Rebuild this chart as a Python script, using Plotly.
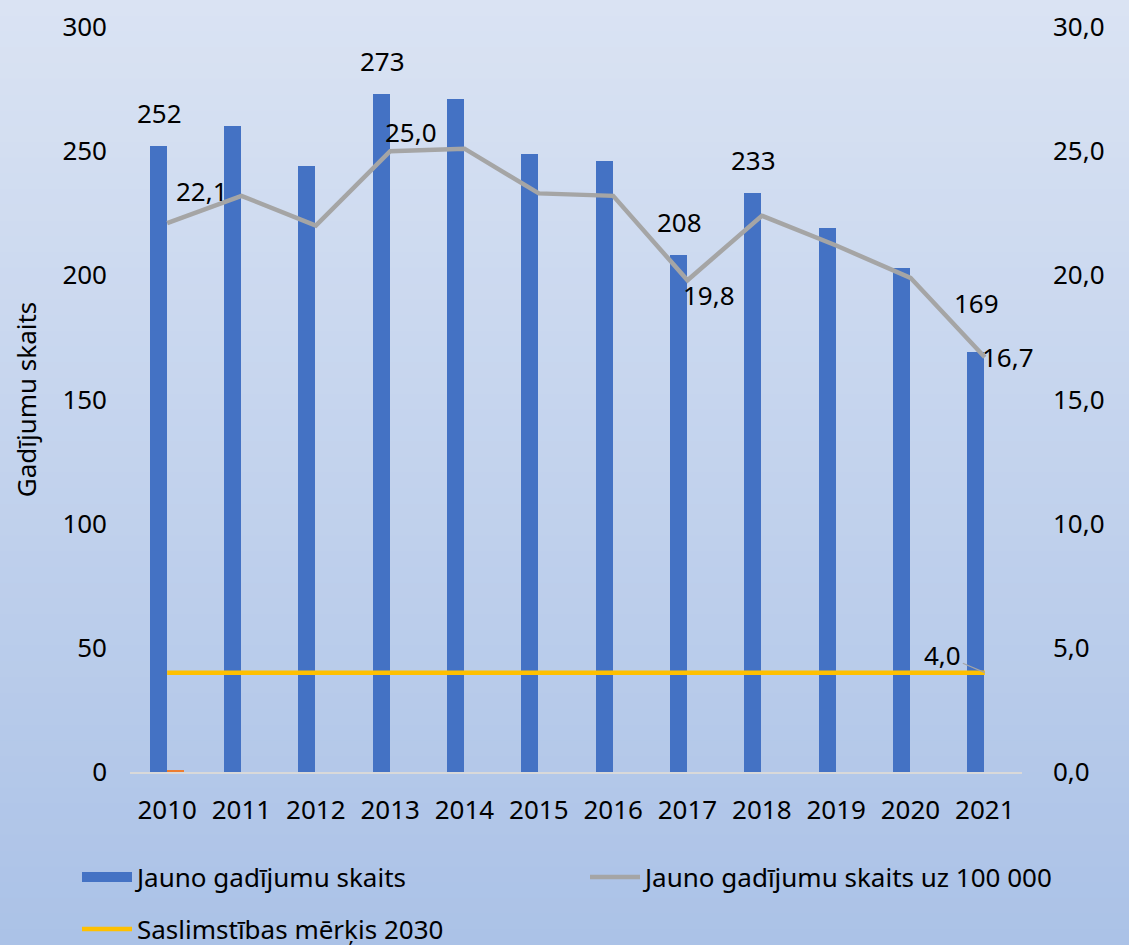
import plotly.graph_objects as go

# Data
years = ['2010', '2011', '2012', '2013', '2014', '2015',
         '2016', '2017', '2018', '2019', '2020', '2021']
new_cases = [252, 260, 244, 273, 271, 249, 246, 208, 233, 219, 203, 169]
cases_per_100k = [22.1, 23.2, 22.0, 25.0, 25.1, 23.3, 23.2, 19.8, 22.4, 21.2, 19.9, 16.7]
target_2030 = [4.0] * len(years)
other_series = [0.8] + [None] * (len(years) - 1)

bar_labels = {'2010': 252, '2013': 273, '2017': 208, '2018': 233, '2021': 169}
line_labels = {'2010': '22,1', '2013': '25,0', '2017': '19,8', '2021': '16,7'}

W, H = 1129, 945
M_L, M_R, M_T, M_B = 130, 107, 27, 173
FONT = 'Noto Sans'
plot_h = H - M_T - M_B
plot_w = W - M_L - M_R


def px_x(p):
    return (p - M_L) / plot_w


def px_y(p):
    return (H - M_B - p) / plot_h


fig = go.Figure()

fig.add_trace(go.Bar(
    x=years, y=new_cases, name='Jauno gadījumu skaits', showlegend=False,
    marker=dict(color='#4472C4', line=dict(width=0)),
    width=0.23, offset=-0.235,
))
# legend-only proxy so the swatch is a wide block like in Excel
fig.add_trace(go.Scatter(
    x=[None], y=[None], mode='lines', name='Jauno gadījumu skaits',
    line=dict(color='#4472C4', width=18), legend='legend',
))
fig.add_trace(go.Bar(
    x=years, y=other_series, name='other', showlegend=False,
    marker=dict(color='#ED7D31', line=dict(width=0)),
    width=0.23, offset=0.0,
))
fig.add_trace(go.Scatter(
    x=years, y=cases_per_100k, yaxis='y2', mode='lines',
    name='Jauno gadījumu skaits uz 100 000',
    line=dict(color='#A5A5A5', width=4.5), legend='legend2',
))
fig.add_trace(go.Scatter(
    x=years, y=target_2030, yaxis='y2', mode='lines',
    name='Saslimstības mērķis 2030',
    line=dict(color='#FFC000', width=4.5), legend='legend3',
))

annotations = []
for yr, val in bar_labels.items():
    annotations.append(dict(
        x=years.index(yr), y=val, xref='x', yref='y', text=str(val), showarrow=False,
        xshift=-8, yshift=49 if yr == '2021' else 33,
        font=dict(size=26, color='black', family=FONT),
    ))

shifts = {'2010': (35, 32), '2013': (21, 19), '2017': (21, -15), '2021': (23, 0)}
for yr, txt in line_labels.items():
    dx, dy = shifts[yr]
    i = years.index(yr)
    annotations.append(dict(
        x=i, y=cases_per_100k[i], xref='x', yref='y2', text=txt,
        showarrow=False, xshift=dx, yshift=dy,
        font=dict(size=26, color='black', family=FONT),
    ))

# target label with small leader line
annotations.append(dict(
    x=len(years) - 1, y=target_2030[-1], xref='x', yref='y2', text='4,0',
    showarrow=True, arrowhead=0, arrowwidth=1.2, arrowcolor='#A5A5A5',
    ax=-42, ay=-18, standoff=0,
    font=dict(size=26, color='black', family=FONT),
))

# vertical gradient background made of thin strips
top_rgb = (218, 227, 243)
bot_rgb = (171, 194, 231)
n = 60
shapes = []
for k in range(n):
    t = k / (n - 1)
    c = tuple(round(a + (b - a) * t) for a, b in zip(top_rgb, bot_rgb))
    p0 = H * k / n
    p1 = H * (k + 1) / n + 1
    shapes.append(dict(
        type='rect', xref='paper', yref='paper', layer='below',
        x0=px_x(0), x1=px_x(W), y0=px_y(p1), y1=px_y(p0),
        fillcolor='rgb(%d,%d,%d)' % c, line=dict(width=0),
    ))

legend_style = dict(
    orientation='h', xanchor='left', yanchor='middle',
    bgcolor='rgba(0,0,0,0)', font=dict(size=26, family=FONT), itemwidth=50,
)

fig.update_layout(
    width=W, height=H,
    margin=dict(l=M_L, r=M_R, t=M_T, b=M_B, autoexpand=False),
    paper_bgcolor='#C3D2EC', plot_bgcolor='rgba(0,0,0,0)',
    font=dict(family=FONT, size=26, color='black'),
    barmode='overlay', bargap=0,
    shapes=shapes, annotations=annotations,
    xaxis=dict(
        type='category', range=[-0.5, len(years) - 0.5],
        showgrid=False, showline=True, linecolor='#D9D9D9',
        linewidth=2, ticks='', ticklabelstandoff=14,
        tickfont=dict(size=26, family=FONT),
    ),
    yaxis=dict(
        range=[0, 300], dtick=50, showgrid=False, zeroline=False,
        ticklabelstandoff=22, tickfont=dict(size=26, family=FONT),
        title=dict(text='Gadījumu skaits', standoff=18,
                   font=dict(size=26, family=FONT)),
        automargin=False,
    ),
    yaxis2=dict(
        range=[0, 30], dtick=5, tickformat='.1f', overlaying='y', side='right',
        showgrid=False, zeroline=False, ticklabelstandoff=30,
        tickfont=dict(size=26, family=FONT), automargin=False,
    ),
    separators=', ',
    legend=dict(x=px_x(77), y=px_y(877), **legend_style),
    legend2=dict(x=px_x(585), y=px_y(877), **legend_style),
    legend3=dict(x=px_x(77), y=px_y(929), **legend_style),
    showlegend=True,
)

# page body margin would push the chart off the window edge
fig.write_html('out.html', config={'displayModeBar': False},
               post_script="document.body.style.margin='0px';")
